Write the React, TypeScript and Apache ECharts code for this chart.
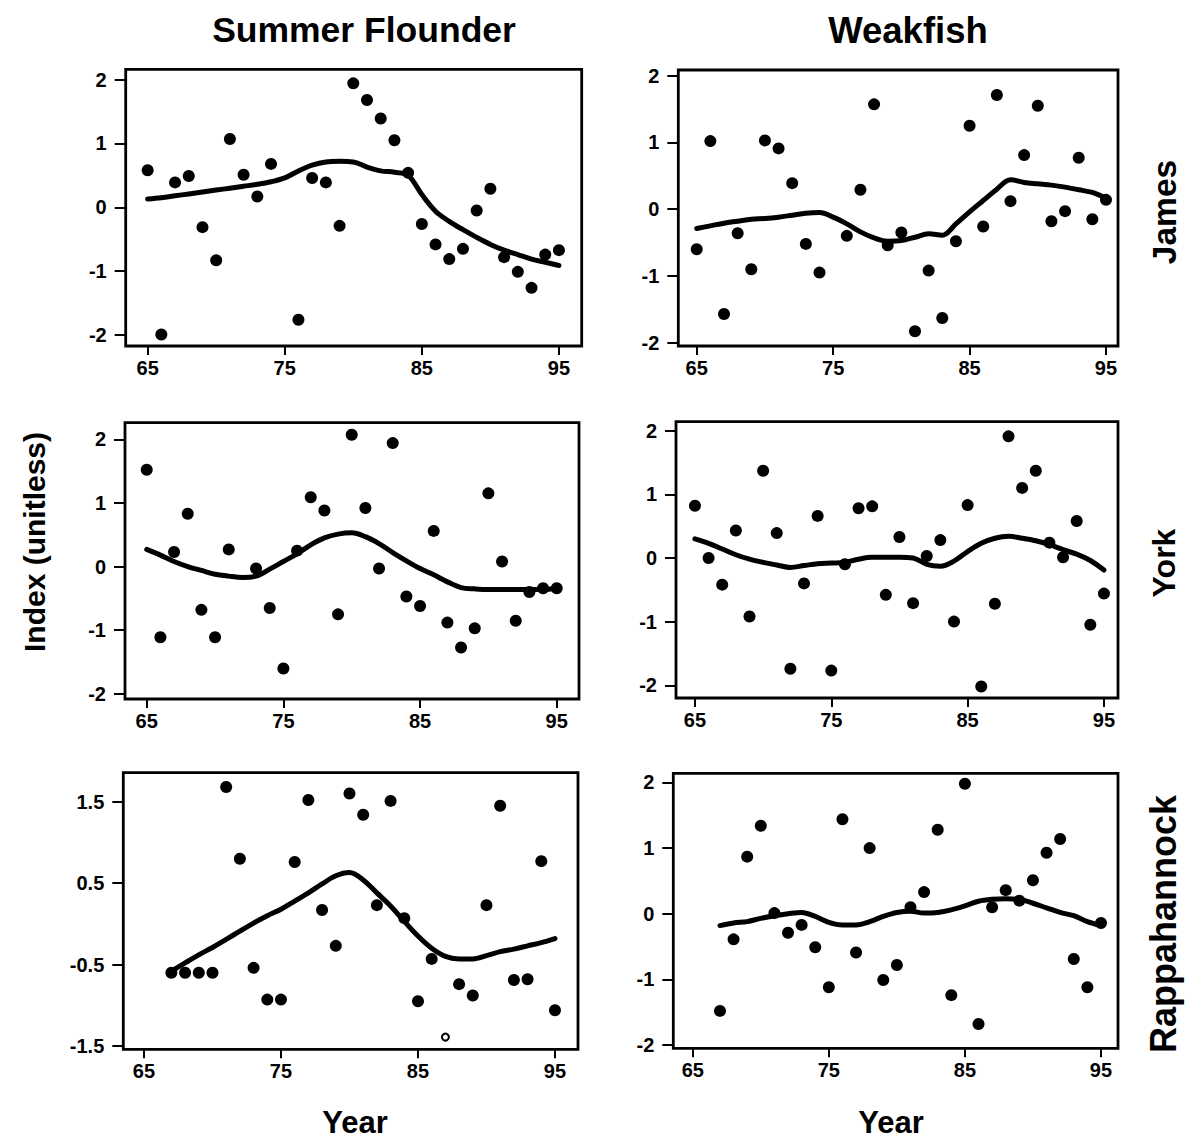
import React, { useEffect, useRef } from "react";
import * as echarts from "echarts";

// ---------- data ----------
const yearsFull = [65,66,67,68,69,70,71,72,73,74,75,76,77,78,79,80,81,82,83,84,85,86,87,88,89,90,91,92,93,94,95];
const years67 = [67,68,69,70,71,72,73,74,75,76,77,78,79,80,81,82,83,84,85,86,87,88,89,90,91,92,93,94,95];
const yearsNo75 = [65,66,67,68,69,70,71,72,73,74,76,77,78,79,80,81,82,83,84,85,86,87,88,89,90,91,92,93,94,95];
const yearsNo72 = [65,66,67,68,69,70,71,73,74,75,76,77,78,79,80,81,82,83,84,85,86,87,88,89,90,91,92,93,94,95];
const yearsRapSfSolid = [67,68,69,70,71,72,73,74,75,76,77,78,79,80,81,82,83,84,85,86,88,89,90,91,92,93,94,95];
const yearsRapSfOpen = [87];

const sfJamesPts = [0.58,-1.99,0.39,0.49,-0.31,-0.83,1.07,0.51,0.17,0.68,-1.76,0.46,0.39,-0.29,1.94,1.68,1.39,1.05,0.54,-0.26,-0.58,-0.81,-0.65,-0.05,0.29,-0.78,-1.01,-1.26,-0.74,-0.67];
const sfJamesFit = [0.13,0.15,0.18,0.21,0.24,0.27,0.30,0.33,0.36,0.40,0.46,0.57,0.66,0.71,0.72,0.71,0.63,0.57,0.55,0.50,0.20,-0.06,-0.22,-0.35,-0.47,-0.58,-0.67,-0.74,-0.81,-0.86,-0.91];

const wfJamesPts = [-0.60,1.02,-1.57,-0.36,-0.90,1.03,0.91,0.39,-0.52,-0.95,-0.40,0.29,1.57,-0.54,-0.35,-1.83,-0.92,-1.63,-0.48,1.25,-0.26,1.71,0.12,0.81,1.55,-0.18,-0.03,0.77,-0.15,0.14];
const wfJamesFit = [-0.29,-0.25,-0.21,-0.18,-0.15,-0.14,-0.12,-0.09,-0.06,-0.05,-0.12,-0.22,-0.34,-0.43,-0.48,-0.47,-0.42,-0.37,-0.39,-0.22,-0.04,0.13,0.30,0.44,0.40,0.38,0.36,0.33,0.29,0.25,0.16];

const sfYorkPts = [1.52,-1.11,0.23,0.83,-0.68,-1.11,0.27,-0.03,-0.65,-1.60,0.25,1.09,0.88,-0.75,2.07,0.92,-0.03,1.94,-0.47,-0.62,0.56,-0.88,-1.27,-0.97,1.15,0.08,-0.85,-0.40,-0.34,-0.34];
const sfYorkFit = [0.27,0.18,0.08,0.00,-0.06,-0.12,-0.15,-0.17,-0.15,-0.04,0.08,0.20,0.34,0.45,0.51,0.53,0.47,0.36,0.22,0.09,-0.03,-0.13,-0.24,-0.33,-0.35,-0.36,-0.36,-0.36,-0.36,-0.36,-0.34];

const wfYorkPts = [0.82,0.00,-0.42,0.43,-0.92,1.37,0.39,-1.74,-0.40,0.66,-1.77,-0.10,0.78,0.81,-0.58,0.33,-0.71,0.03,0.28,-1.00,0.83,-2.02,-0.72,1.91,1.10,1.37,0.24,0.01,0.58,-1.05,-0.56];
const wfYorkFit = [0.30,0.23,0.14,0.05,-0.02,-0.07,-0.11,-0.15,-0.12,-0.09,-0.08,-0.07,-0.02,0.01,0.01,0.01,0.00,-0.10,-0.13,-0.05,0.10,0.23,0.31,0.34,0.31,0.27,0.21,0.13,0.06,-0.04,-0.19];

const sfRapPts = [-0.60,-0.60,-0.60,-0.60,1.68,0.80,-0.54,-0.93,-0.93,0.76,1.52,0.17,-0.27,1.60,1.34,0.23,1.51,0.07,-0.95,-0.43,-0.74,-0.88,0.23,1.45,-0.69,-0.68,0.77,-1.06];
const sfRapOpen = [-1.39];
const sfRapFit = [-0.58,-0.48,-0.38,-0.29,-0.19,-0.09,0.01,0.10,0.18,0.28,0.38,0.49,0.59,0.63,0.54,0.38,0.22,0.03,-0.15,-0.30,-0.40,-0.43,-0.43,-0.39,-0.34,-0.31,-0.27,-0.23,-0.18];

const wfRapPts = [-1.48,-0.39,0.87,1.34,0.01,-0.29,-0.17,-0.51,-1.12,1.44,-0.59,1.00,-1.01,-0.78,0.10,0.33,1.28,-1.24,1.98,-1.68,0.10,0.36,0.20,0.51,0.93,1.14,-0.69,-1.12,-0.14];
const wfRapFit = [-0.18,-0.14,-0.12,-0.07,-0.03,0.00,0.02,-0.04,-0.13,-0.17,-0.17,-0.12,-0.04,0.02,0.04,0.01,0.02,0.06,0.12,0.19,0.22,0.23,0.22,0.16,0.09,0.02,-0.03,-0.12,-0.18];

const xTicks = [65, 75, 85, 95];
const yTicksStd = [-2, -1, 0, 1, 2];
const yTicksRap = [-1.5, -0.5, 0.5, 1.5];

const colTitles = ["Summer Flounder", "Weakfish"];
const rowTitles = ["James", "York", "Rappahannock"];
const yTitle = "Index (unitless)";
const xTitle = "Year";

// ---------- layout ----------
const FONT = "'Liberation Sans', Arial, Helvetica, sans-serif";

const panels = [
  { box: [125.7, 69.3, 581.7, 346], x: [63.4, 96.66], y: [-2.17, 2.16], yt: yTicksStd,
    pts: [{ yrs: yearsNo75, v: sfJamesPts, open: false }], fitYrs: yearsFull, fit: sfJamesFit },
  { box: [678.3, 70, 1118, 346], x: [63.65, 95.88], y: [-2.05, 2.085], yt: yTicksStd,
    pts: [{ yrs: yearsNo75, v: wfJamesPts, open: false }], fitYrs: yearsFull, fit: wfJamesFit },
  { box: [125, 422.7, 579, 699], x: [63.41, 96.63], y: [-2.08, 2.26], yt: yTicksStd,
    pts: [{ yrs: yearsNo72, v: sfYorkPts, open: false }], fitYrs: yearsFull, fit: sfYorkFit },
  { box: [676, 421.7, 1118, 698], x: [63.61, 96.03], y: [-2.2, 2.14], yt: yTicksStd,
    pts: [{ yrs: yearsFull, v: wfYorkPts, open: false }], fitYrs: yearsFull, fit: wfYorkFit },
  { box: [123.3, 772.7, 578, 1049.3], x: [63.49, 96.68], y: [-1.54, 1.856], yt: yTicksRap,
    pts: [{ yrs: yearsRapSfSolid, v: sfRapPts, open: false }, { yrs: yearsRapSfOpen, v: sfRapOpen, open: true }],
    fitYrs: years67, fit: sfRapFit },
  { box: [673.3, 773.3, 1118, 1048.3], x: [63.57, 96.25], y: [-2.05, 2.14], yt: yTicksStd,
    pts: [{ yrs: years67, v: wfRapPts, open: false }], fitYrs: years67, fit: wfRapFit },
];

function buildOption() {
  const grid: any[] = [];
  const xAxis: any[] = [];
  const yAxis: any[] = [];
  const series: any[] = [];
  const labelStyle = { color: "#000", fontSize: 20, fontWeight: "bold", fontFamily: FONT };
  panels.forEach((p, i) => {
    const [l, t, r, b] = p.box;
    grid.push({ left: l, top: t, width: r - l, height: b - t, show: true, borderColor: "#000", borderWidth: 2.8, backgroundColor: "transparent", containLabel: false });
    xAxis.push({
      gridIndex: i, type: "value", min: p.x[0], max: p.x[1], position: "bottom",
      axisLine: { show: false, onZero: false }, splitLine: { show: false },
      axisTick: { show: true, customValues: xTicks, length: 9, lineStyle: { color: "#000", width: 2 } },
      axisLabel: { ...labelStyle, customValues: xTicks, margin: 12 },
    });
    yAxis.push({
      gridIndex: i, type: "value", min: p.y[0], max: p.y[1], position: "left",
      axisLine: { show: false, onZero: false }, splitLine: { show: false },
      axisTick: { show: true, customValues: p.yt, length: 11, lineStyle: { color: "#000", width: 2 } },
      axisLabel: { ...labelStyle, customValues: p.yt, margin: 19 },
    });
    series.push({
      type: "line", xAxisIndex: i, yAxisIndex: i, smooth: 0.35, symbol: "none",
      lineStyle: { color: "#000", width: 5, cap: "round", join: "round" },
      data: p.fitYrs.map((yr, k) => [yr, p.fit[k]]), z: 3,
    });
    p.pts.forEach((s) => {
      series.push({
        type: "scatter", xAxisIndex: i, yAxisIndex: i, symbol: "circle",
        symbolSize: s.open ? 7 : 12,
        itemStyle: s.open ? { color: "#fff", borderColor: "#000", borderWidth: 2, opacity: 1 } : { color: "#000", opacity: 1 },
        data: s.yrs.map((yr, k) => [yr, s.v[k]]), z: 4,
      });
    });
  });

  const txt = (text: string, x: number, y: number, size: number, rot = 0) => ({
    type: "text", x, y, rotation: rot,
    style: { text, fill: "#000", font: `bold ${size}px ${FONT}`, textAlign: "center", textVerticalAlign: "middle" },
  });

  const graphic = [
    txt(colTitles[0], 364, 30, 35.5),
    txt(colTitles[1], 908, 30, 36.5),
    txt(rowTitles[0], 1164, 212, 33.5, Math.PI / 2),
    txt(rowTitles[1], 1164, 563, 32, Math.PI / 2),
    txt(rowTitles[2], 1163, 924, 36, Math.PI / 2),
    txt(yTitle, 34, 542, 30, Math.PI / 2),
    txt(xTitle, 355, 1122, 31),
    txt(xTitle, 891, 1122, 31),
  ];

  return { animation: false, backgroundColor: "#fff", grid, xAxis, yAxis, series, graphic };
}

export default function App() {
  const ref = useRef<HTMLDivElement>(null);
  useEffect(() => {
    if (!ref.current) return;
    const chart = echarts.init(ref.current, null, { renderer: "svg" });
    chart.setOption(buildOption() as any);
    return () => chart.dispose();
  }, []);
  return <div ref={ref} style={{ position: "fixed", left: 0, top: 0, width: 1189, height: 1143, background: "#fff" }} />;
}
